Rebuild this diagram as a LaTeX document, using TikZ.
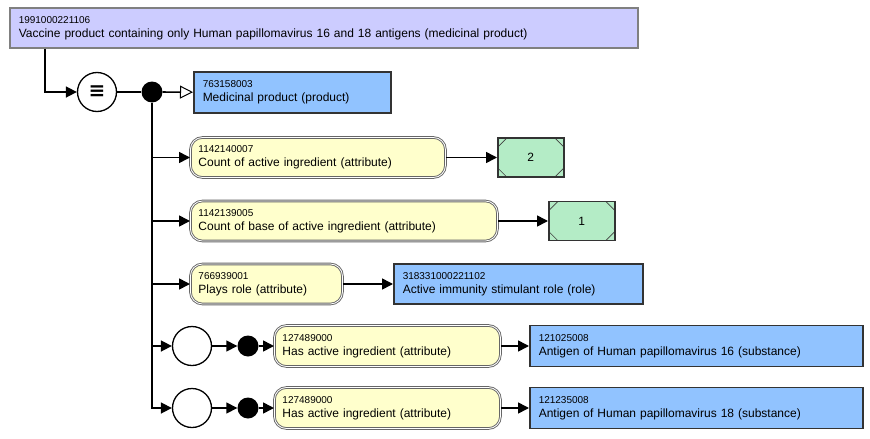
\documentclass[tikz,border=0pt]{standalone}
\usepackage{fontspec}
\setmainfont{Liberation Sans}
\newfontfamily\symbolfont{DejaVu Sans}
\usepackage{tikz}
\usetikzlibrary{arrows.meta}
\definecolor{primblue}{RGB}{145,195,255}
\definecolor{defpurple}{RGB}{204,204,255}
\definecolor{attryellow}{RGB}{255,255,204}
\definecolor{valgreen}{RGB}{180,236,198}
\tikzstyle{concept} = [rectangle, draw=black!80, line width=1.5pt, fill=primblue, anchor=west, minimum height=41pt, inner xsep=9pt, align=left, font=\fontsize{12}{14}\selectfont]
\tikzstyle{definedconcept} = [concept, draw=black!50, fill=defpurple]
\tikzstyle{attribute} = [rectangle, rounded corners=12pt, draw=black!60, double=white, double distance=0.8pt, line width=0.9pt, fill=attryellow, anchor=west, minimum height=40pt, inner xsep=8pt, align=left, font=\fontsize{12}{14}\selectfont]
\tikzstyle{numval} = [rectangle, draw=black!80, line width=1.5pt, fill=valgreen, anchor=west, minimum width=66pt, minimum height=39pt, font=\fontsize{12}{14}\selectfont,
  path picture={
    \draw[black!75, line width=0.7pt] ([yshift=-9pt]path picture bounding box.north west) -- ([xshift=9pt]path picture bounding box.north west)
      ([yshift=-9pt]path picture bounding box.north east) -- ([xshift=-9pt]path picture bounding box.north east)
      ([yshift=9pt]path picture bounding box.south west) -- ([xshift=9pt]path picture bounding box.south west)
      ([yshift=9pt]path picture bounding box.south east) -- ([xshift=-9pt]path picture bounding box.south east);
  }]
\tikzstyle{conj} = [circle, draw=black, line width=1.3pt, fill=white, minimum size=39pt, inner sep=0pt]
\tikzstyle{junction} = [circle, fill=black, minimum size=21pt, inner sep=0pt]
\tikzstyle{link} = [line width=1.6pt]
\tikzstyle{arrow} = [line width=1.6pt, -{Triangle[length=11pt,width=11pt]}]
\tikzstyle{isa} = [line width=1.6pt, -{Triangle[open,length=13pt,width=13pt,line width=1pt]}]
\newcommand{\sctid}[1]{{\fontsize{10}{12}\selectfont #1}\\}

\begin{document}
\begin{tikzpicture}[x=1pt, y=-1pt]
  \useasboundingbox (0,0) rectangle (870,439);
  \node (vaccine) [definedconcept, text width=610pt, minimum height=40pt] at (9,28) {\sctid{1991000221106}Vaccine product containing only Human papillomavirus 16 and 18 antigens (medicinal product)};
  \node (equiv) [conj] at (97,92) {\symbolfont\bfseries\fontsize{20}{20}\selectfont ≡};
  \node (grp) [junction] at (152,92) {};
  \node (medprod) [concept, text width=179pt] at (193,92.5) {\sctid{763158003}Medicinal product (product)};
  \draw [arrow] ([xshift=36pt]vaccine.south west) |- (equiv);
  \draw [link] (equiv) -- (grp);
  \draw [isa] (grp) -- (medprod);

  % attributes
  \node (count) [attribute, text width=239pt] at (190,157.5) {\sctid{1142140007}Count of active ingredient (attribute)};
  \node (countval) [numval] at (497,157.5) {2};
  \node (countbase) [attribute, text width=291pt] at (190,221) {\sctid{1142139005}Count of base of active ingredient (attribute)};
  \node (countbaseval) [numval] at (548,221) {1};
  \node (plays) [attribute, text width=136pt] at (190,284) {\sctid{766939001}Plays role (attribute)};
  \node (role) [concept, text width=231pt, minimum height=40pt] at (393,284) {\sctid{318331000221102}Active immunity stimulant role (role)};
  \draw [arrow] (grp |- count) -- (count);
  \draw [arrow] (count) -- (countval);
  \draw [arrow] (grp |- countbase) -- (countbase);
  \draw [arrow] (countbase) -- (countbaseval);
  \draw [arrow] (grp |- plays) -- (plays);
  \draw [arrow] (plays) -- (role);

  % role groups
  \node (rgone) [conj] at (192,346) {};
  \node (rdone) [junction] at (248,346) {};
  \node (haione) [attribute, text width=210pt, minimum height=41pt] at (274,346) {\sctid{127489000}Has active ingredient (attribute)};
  \node (hpvsixteen) [concept, text width=315pt] at (529,346) {\sctid{121025008}Antigen of Human papillomavirus 16 (substance)};
  \node (rgtwo) [conj] at (192,408) {};
  \node (rdtwo) [junction] at (248,408) {};
  \node (haitwo) [attribute, text width=210pt, minimum height=41pt] at (274,408) {\sctid{127489000}Has active ingredient (attribute)};
  \node (hpveighteen) [concept, text width=315pt] at (529,408) {\sctid{121235008}Antigen of Human papillomavirus 18 (substance)};
  \draw [arrow] (grp |- rgone) -- (rgone);
  \draw [arrow] (grp) |- (rgtwo);
  \draw [arrow] (rgone) -- (rdone);
  \draw [arrow] (rdone) -- (haione);
  \draw [arrow] (haione) -- (hpvsixteen);
  \draw [arrow] (rgtwo) -- (rdtwo);
  \draw [arrow] (rdtwo) -- (haitwo);
  \draw [arrow] (haitwo) -- (hpveighteen);
\end{tikzpicture}
\end{document}
